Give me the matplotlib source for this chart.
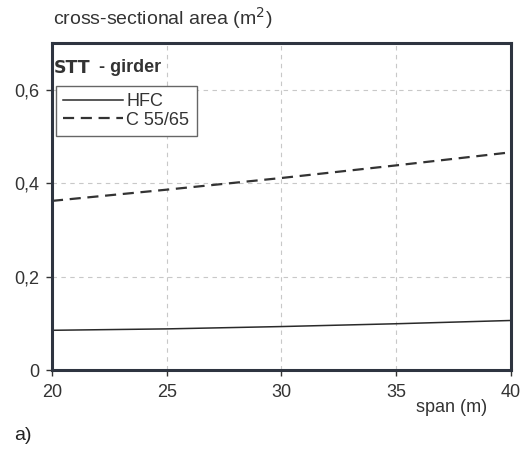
import numpy as np
import matplotlib.pyplot as plt
from matplotlib.ticker import FuncFormatter

plt.rcParams['font.family'] = ['Liberation Sans', 'DejaVu Sans']

# -- cross-sectional area vs span
span = [20, 25, 30, 35, 40]
hfc = [0.085, 0.088, 0.093, 0.099, 0.106]
c5565 = [0.362, 0.386, 0.411, 0.438, 0.466]

fig = plt.figure(figsize=(5.24, 4.51), dpi=100)
ax = fig.add_axes([0.0992, 0.1796, 0.8758, 0.7251])

ax.plot(span, hfc, '-', color='#2a2a2a', lw=1.1, label='HFC')
ax.plot(span, c5565, '--', color='#333333', lw=1.6, dashes=(5, 3), label='C 55/65')

ax.set_xlim(20, 40)
ax.set_ylim(0, 0.7)
ax.set_xticks([20, 25, 30, 35, 40])
ax.set_yticks([0, 0.2, 0.4, 0.6])
ax.yaxis.set_major_formatter(FuncFormatter(lambda v, p: '0' if v == 0 else ('%.1f' % v).replace('.', ',')))
ax.tick_params(labelsize=13, colors='#333333', length=4, width=1, pad=5)
ax.tick_params(axis='x', pad=6)
ax.grid(True, ls=(0, (4, 4)), color='#c8c8c8', lw=0.8)
for s in ax.spines.values():
    s.set_linewidth(2.2)
    s.set_color('#2e3440')

# title inside the frame: "STT" in a different face, bold "- girder"
ax.text(2/459, 1 - 25/327, 'STT', transform=ax.transAxes, fontsize=12.5,
        family='DejaVu Sans', fontweight='semibold', color='#333333',
        va='center', ha='left')
ax.text(47/459, 1 - 25/327, '- girder', transform=ax.transAxes, fontsize=13,
        fontweight='bold', color='#333333', va='center', ha='left')

leg = ax.legend(loc='upper left', bbox_to_anchor=(4/459, 1 - 43/327), fontsize=13,
                handlelength=3.3, handletextpad=0.2, borderpad=0.4,
                labelspacing=0.08, fancybox=False, framealpha=1, borderaxespad=0)
leg.get_frame().set_edgecolor('#666666')
leg.get_frame().set_linewidth(1.0)
for t in leg.get_texts():
    t.set_color('#333333')

fig.text(53/524, 1 - 18/451, 'cross-sectional area (m$^2$)', fontsize=14,
         color='#333333', va='center', ha='left')
fig.text(452/524, 1 - 407/451, 'span (m)', fontsize=13, color='#333333',
         va='center', ha='center')
fig.text(14/524, 1 - 435/451, 'a)', fontsize=14, color='#222222',
         va='center', ha='left')

fig.savefig('out.png', dpi=100)
